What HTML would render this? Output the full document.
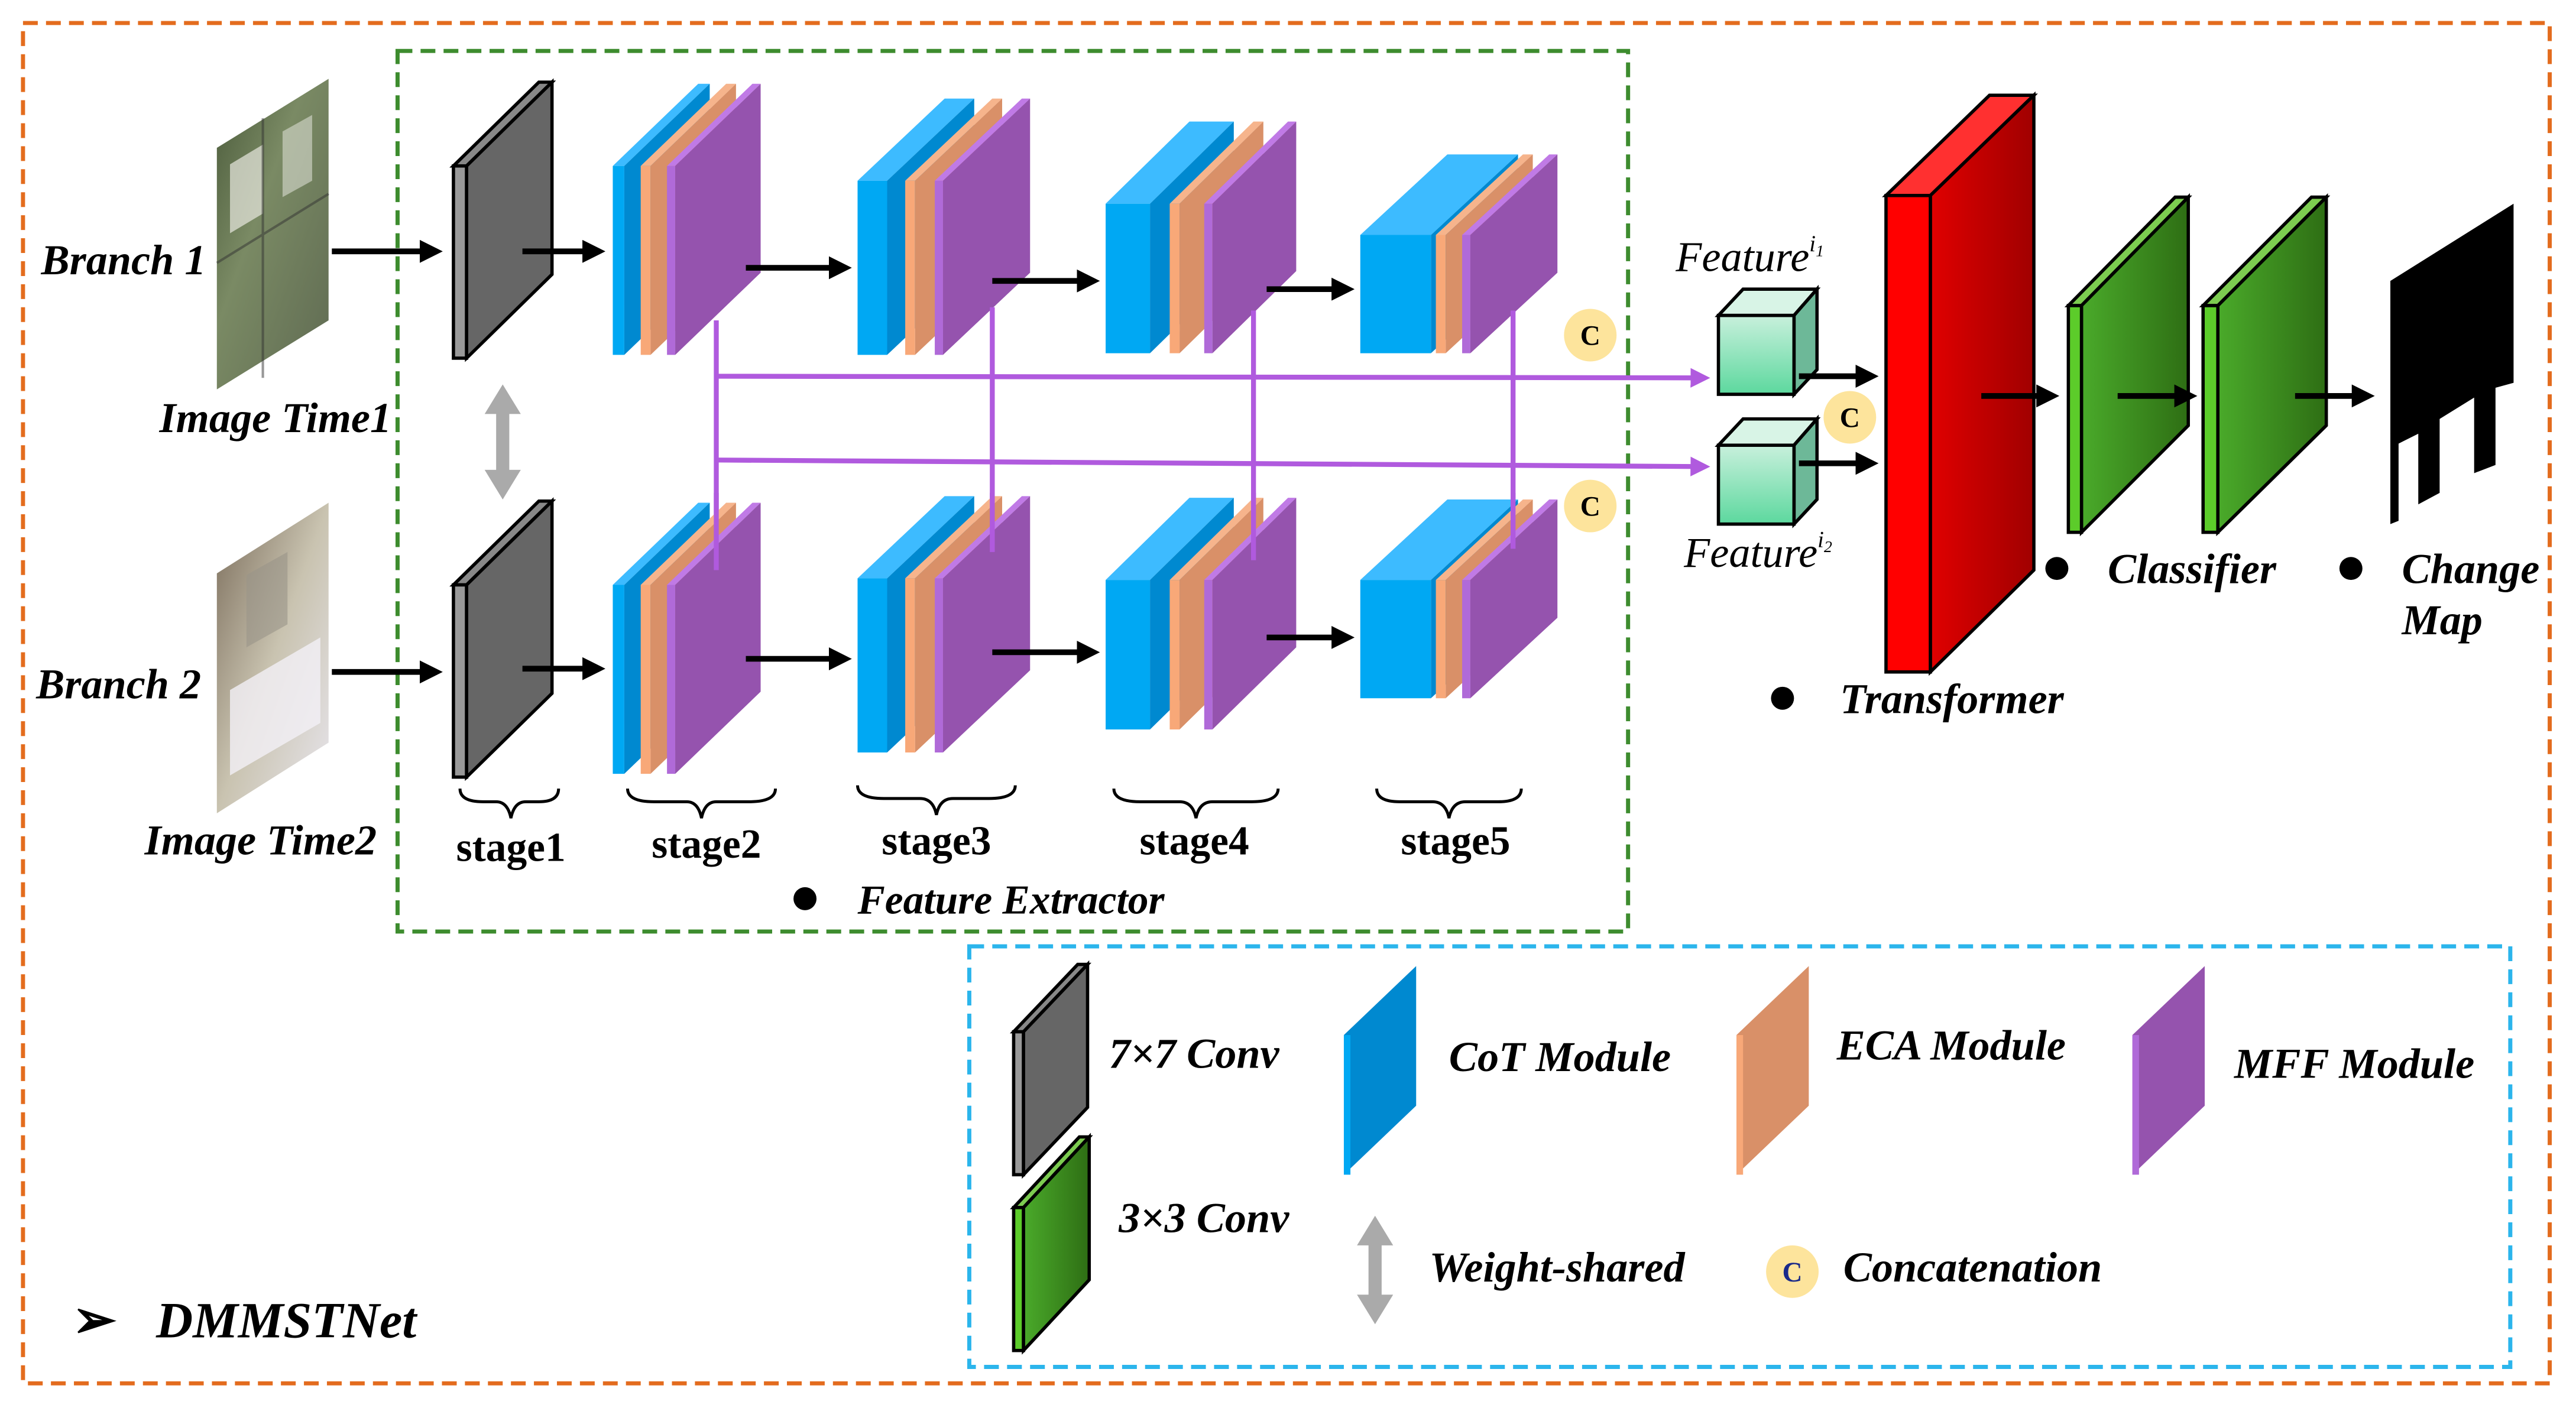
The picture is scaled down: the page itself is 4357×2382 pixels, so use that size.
<!DOCTYPE html>
<html><head><meta charset="utf-8"><style>
html,body{margin:0;padding:0;background:#fff;}
svg{display:block;}
text{font-family:"Liberation Serif",serif;}
.bi{font-weight:bold;font-style:italic;}
.b{font-weight:bold;}
</style></head><body>
<svg width="4357" height="2382" viewBox="0 0 1568 857" preserveAspectRatio="none" xmlns="http://www.w3.org/2000/svg">
<defs>
<marker id="ah" markerWidth="4" markerHeight="4" refX="3" refY="2" orient="auto" markerUnits="strokeWidth"><path d="M0,0 L4,2 L0,4 z" fill="#000"/></marker>
<marker id="ap" markerWidth="4" markerHeight="4" refX="3" refY="2" orient="auto" markerUnits="strokeWidth"><path d="M0,0 L4,2 L0,4 z" fill="#b05ade"/></marker>
<linearGradient id="img1" x1="0" y1="0" x2="1" y2="1"><stop offset="0" stop-color="#4a5a3a"/><stop offset="0.4" stop-color="#7a8a64"/><stop offset="1" stop-color="#5f6a52"/></linearGradient>
<linearGradient id="img2" x1="0" y1="0" x2="1" y2="1"><stop offset="0" stop-color="#7a6c5a"/><stop offset="0.5" stop-color="#c9c3b0"/><stop offset="1" stop-color="#e8e6ee"/></linearGradient>
<linearGradient id="red" x1="0" y1="0" x2="1" y2="0"><stop offset="0" stop-color="#e00000"/><stop offset="1" stop-color="#a00000"/></linearGradient>
<linearGradient id="grn" x1="0" y1="0" x2="1" y2="0"><stop offset="0" stop-color="#4aaa2a"/><stop offset="1" stop-color="#2e6e14"/></linearGradient>
<linearGradient id="cube" x1="0" y1="0" x2="0" y2="1"><stop offset="0" stop-color="#c8f0dc"/><stop offset="1" stop-color="#5cd89e"/></linearGradient>
<g id="s1">
<polygon points="276,101 284,101 336,50 328,50" fill="#888" stroke="#000" stroke-width="2"/>
<rect x="276" y="101" width="8" height="117" fill="#999" stroke="#000" stroke-width="2"/>
<polygon points="284,101 336,50 336,167 284,218" fill="#666" stroke="#000" stroke-width="2"/>
</g>
<g id="s2">
<polygon points="373,101 380,101 432,51 425,51" fill="#3dbbff"/><rect x="373" y="101" width="7" height="115" fill="#00a8f3"/><polygon points="380,101 432,51 432,166 380,216" fill="#0089d0"/>
<polygon points="390,101 396,101 448,51 442,51" fill="#f6b48c"/><rect x="390" y="101" width="6" height="115" fill="#f8a878"/><polygon points="396,101 448,51 448,166 396,216" fill="#d99068"/>
<polygon points="406,101 411,101 463,51 458,51" fill="#c07ae6"/><rect x="406" y="101" width="5" height="115" fill="#b06ad8"/><polygon points="411,101 463,51 463,166 411,216" fill="#9553ae"/>
</g>
<g id="s3">
<polygon points="522,110 540,110 593,60 575,60" fill="#3dbbff"/><rect x="522" y="110" width="18" height="106" fill="#00a8f3"/><polygon points="540,110 593,60 593,166 540,216" fill="#0089d0"/>
<polygon points="551,110 557,110 610,60 604,60" fill="#f6b48c"/><rect x="551" y="110" width="6" height="106" fill="#f8a878"/><polygon points="557,110 610,60 610,166 557,216" fill="#d99068"/>
<polygon points="569,110 574,110 627,60 622,60" fill="#c07ae6"/><rect x="569" y="110" width="5" height="106" fill="#b06ad8"/><polygon points="574,110 627,60 627,166 574,216" fill="#9553ae"/>
</g>
<g id="s4">
<polygon points="673,124 700,124 751,74 724,74" fill="#3dbbff"/><rect x="673" y="124" width="27" height="91" fill="#00a8f3"/><polygon points="700,124 751,74 751,165 700,215" fill="#0089d0"/>
<polygon points="712,124 718,124 769,74 763,74" fill="#f6b48c"/><rect x="712" y="124" width="6" height="91" fill="#f8a878"/><polygon points="718,124 769,74 769,165 718,215" fill="#d99068"/>
<polygon points="733,124 738,124 789,74 784,74" fill="#c07ae6"/><rect x="733" y="124" width="5" height="91" fill="#b06ad8"/><polygon points="738,124 789,74 789,165 738,215" fill="#9553ae"/>
</g>
<g id="s5">
<polygon points="828,143 871,143 924,94 881,94" fill="#3dbbff"/><rect x="828" y="143" width="43" height="72" fill="#00a8f3"/><polygon points="871,143 924,94 924,166 871,215" fill="#0089d0"/>
<polygon points="874,143 880,143 933,94 927,94" fill="#f6b48c"/><rect x="874" y="143" width="6" height="72" fill="#f8a878"/><polygon points="880,143 933,94 933,166 880,215" fill="#d99068"/>
<polygon points="890,143 895,143 948,94 943,94" fill="#c07ae6"/><rect x="890" y="143" width="5" height="72" fill="#b06ad8"/><polygon points="895,143 948,94 948,166 895,215" fill="#9553ae"/>
</g>
</defs>
<rect width="1568" height="857" fill="#fff"/>
<rect x="14" y="14" width="1538" height="828" fill="none" stroke="#e36c1e" stroke-width="2.5" stroke-dasharray="9,5"/>
<rect x="242" y="31" width="749" height="536" fill="none" stroke="#3d8c2e" stroke-width="2.5" stroke-dasharray="9,5"/>
<rect x="590" y="576" width="938" height="256" fill="none" stroke="#2bb5ec" stroke-width="2.5" stroke-dasharray="9,5"/>
<polygon points="132,90 200,48 200,195 132,237" fill="url(#img1)"/>
<polygon points="140,100 160,88 160,130 140,142" fill="#e8e8e0" opacity="0.7"/>
<polygon points="172,80 190,70 190,110 172,120" fill="#d8dcd0" opacity="0.6"/>
<path d="M160,72 L160,230 M132,160 L200,118" stroke="#333" stroke-width="1.5" opacity="0.5"/>
<polygon points="132,349 200,306 200,452 132,495" fill="url(#img2)"/>
<polygon points="140,420 195,388 195,440 140,472" fill="#f2f0f6" opacity="0.8"/>
<polygon points="150,350 175,336 175,380 150,394" fill="#9a9488" opacity="0.6"/>
<text x="25" y="167" font-size="26" class="bi">Branch 1</text>
<text x="97" y="263" font-size="26" class="bi">Image Time1</text>
<text x="22" y="425" font-size="26" class="bi">Branch 2</text>
<text x="88" y="520" font-size="26" class="bi">Image Time2</text>
<use href="#s1"/><use href="#s1" y="255"/>
<use href="#s2"/><use href="#s3"/><use href="#s4"/><use href="#s5"/>
<g stroke="#b05ade" stroke-width="3" fill="none">
<line x1="436" y1="195" x2="436" y2="347"/>
<line x1="604" y1="187" x2="604" y2="336"/>
<line x1="763" y1="189" x2="763" y2="341"/>
<line x1="921" y1="189" x2="921" y2="334"/>
<line x1="436" y1="229" x2="1038" y2="230" marker-end="url(#ap)"/>
<line x1="436" y1="280" x2="1038" y2="284" marker-end="url(#ap)"/>
</g>
<use href="#s2" y="255"/><use href="#s3" y="242"/><use href="#s4" y="229"/><use href="#s5" y="210"/>
<g stroke="#b05ade" stroke-width="3"><line x1="436" y1="300" x2="436" y2="347"/><line x1="604" y1="300" x2="604" y2="336"/><line x1="763" y1="300" x2="763" y2="341"/><line x1="921" y1="300" x2="921" y2="334"/></g>
<g stroke="#000" stroke-width="3.5" marker-end="url(#ah)">
<line x1="202" y1="153" x2="266" y2="153"/><line x1="318" y1="153" x2="365" y2="153"/>
<line x1="454" y1="163" x2="515" y2="163"/><line x1="604" y1="171" x2="666" y2="171"/><line x1="771" y1="176" x2="821" y2="176"/>
<line x1="202" y1="409" x2="266" y2="409"/><line x1="318" y1="407" x2="365" y2="407"/>
<line x1="454" y1="401" x2="515" y2="401"/><line x1="604" y1="397" x2="666" y2="397"/><line x1="771" y1="388" x2="821" y2="388"/>
</g>
<g fill="#aaa"><polygon points="306,234 317,252 310,252 310,286 317,286 306,304 295,286 302,286 302,252 295,252"/></g>
<g fill="none" stroke="#000" stroke-width="1.8">
<path d="M280,480 q0,8 14,8 h8 q7,0 9,10 q2,-10 9,-10 h8 q12,0 12,-8"/>
<path d="M382,480 q0,8 16,8 h20 q7,0 9,10 q2,-10 9,-10 h20 q16,0 16,-8"/>
<path d="M522,478 q0,8 16,8 h22 q8,0 10,10 q2,-10 10,-10 h22 q16,0 16,-8"/>
<path d="M678,480 q0,8 16,8 h24 q8,0 10,10 q2,-10 10,-10 h24 q16,0 16,-8"/>
<path d="M838,480 q0,8 14,8 h20 q8,0 10,10 q2,-10 10,-10 h20 q14,0 14,-8"/>
</g>
<g font-size="25" class="b" text-anchor="middle">
<text x="311" y="524">stage1</text><text x="430" y="522">stage2</text><text x="570" y="520">stage3</text><text x="727" y="520">stage4</text><text x="886" y="520">stage5</text>
</g>
<circle cx="490" cy="547" r="7" fill="#000"/>
<text x="522" y="556" font-size="25" class="bi">Feature Extractor</text>
<g font-size="17" class="b" text-anchor="middle">
<circle cx="968" cy="204" r="16" fill="#fde49c"/><text x="968" y="210">C</text>
<circle cx="968" cy="308" r="16" fill="#fde49c"/><text x="968" y="314">C</text>
<circle cx="1126" cy="254" r="16" fill="#fde49c"/><text x="1126" y="260">C</text>
</g>
<g stroke="#000" stroke-width="2">
<polygon points="1046,192 1061,176 1106,176 1092,192" fill="#d8f4e6"/>
<polygon points="1092,192 1106,176 1106,225 1092,240" fill="#6db898"/>
<rect x="1046" y="192" width="46" height="48" fill="url(#cube)"/>
<polygon points="1046,271 1061,255 1106,255 1092,271" fill="#d8f4e6"/>
<polygon points="1092,271 1106,255 1106,304 1092,319" fill="#6db898"/>
<rect x="1046" y="271" width="46" height="48" fill="url(#cube)"/>
</g>
<text x="1020" y="165" font-size="26" font-style="italic">Feature<tspan font-size="14" dy="-12">i</tspan><tspan font-size="10" dy="3">1</tspan></text>
<text x="1025" y="345" font-size="26" font-style="italic">Feature<tspan font-size="14" dy="-12">i</tspan><tspan font-size="10" dy="3">2</tspan></text>
<g stroke="#000" stroke-width="3.5" marker-end="url(#ah)">
<line x1="1095" y1="229" x2="1140" y2="229"/><line x1="1095" y1="282" x2="1140" y2="282"/>
</g>
<g stroke="#000" stroke-width="2">
<polygon points="1148,119 1175,119 1238,58 1211,58" fill="#ff3030"/>
<polygon points="1175,119 1238,58 1238,347 1175,409" fill="url(#red)"/>
<rect x="1148" y="119" width="27" height="290" fill="#ff0000"/>
</g>
<line x1="1206" y1="241" x2="1250" y2="241" stroke="#000" stroke-width="3.5" marker-end="url(#ah)"/>
<g stroke="#000" stroke-width="2">
<polygon points="1259,186 1267,186 1332,120 1324,120" fill="#7ccc50"/>
<polygon points="1267,186 1332,120 1332,259 1267,324" fill="url(#grn)"/>
<rect x="1259" y="186" width="8" height="138" fill="#5ccc2a"/>
<polygon points="1341,186 1350,186 1416,120 1407,120" fill="#7ccc50"/>
<polygon points="1350,186 1416,120 1416,259 1350,324" fill="url(#grn)"/>
<rect x="1341" y="186" width="9" height="138" fill="#5ccc2a"/>
</g>
<g stroke="#000" stroke-width="3.5" marker-end="url(#ah)">
<line x1="1289" y1="241" x2="1334" y2="241"/><line x1="1397" y1="241" x2="1442" y2="241"/>
</g>
<polygon points="1455,171 1530,124 1530,233 1519,236 1519,283 1506,288 1506,242 1485,255 1485,300 1472,307 1472,264 1460,270 1460,317 1455,319" fill="#000"/>
<circle cx="1085" cy="425" r="7" fill="#000"/>
<text x="1120" y="434" font-size="26" class="bi">Transformer</text>
<circle cx="1252" cy="346" r="7" fill="#000"/>
<text x="1283" y="355" font-size="26" class="bi">Classifier</text>
<circle cx="1431" cy="346" r="7" fill="#000"/>
<text x="1462" y="355" font-size="26" class="bi">Change</text>
<text x="1462" y="386" font-size="26" class="bi">Map</text>
<g stroke="#000" stroke-width="2">
<polygon points="617,628 623,628 662,587 656,587" fill="#888"/>
<rect x="617" y="628" width="6" height="87" fill="#999"/>
<polygon points="623,628 662,587 662,674 623,715" fill="#666"/>
<polygon points="617,735 623,735 663,692 657,692" fill="#7ccc50"/>
<rect x="617" y="735" width="6" height="87" fill="#5ccc2a"/>
<polygon points="623,735 663,692 663,779 623,822" fill="url(#grn)"/>
</g>
<polygon points="818,630 862,588 862,673 818,715" fill="#0089d0"/><rect x="818" y="630" width="4" height="85" fill="#00a8f3"/>
<polygon points="1057,630 1101,588 1101,673 1057,715" fill="#d99068"/><rect x="1057" y="630" width="4" height="85" fill="#f8a878"/>
<polygon points="1298,630 1342,588 1342,673 1298,715" fill="#9553ae"/><rect x="1298" y="630" width="4" height="85" fill="#b06ad8"/>
<g font-size="26" class="bi">
<text x="675" y="650">7×7 Conv</text>
<text x="882" y="652">CoT Module</text>
<text x="1118" y="645">ECA Module</text>
<text x="1360" y="656">MFF Module</text>
<text x="681" y="750">3×3 Conv</text>
<text x="870" y="780">Weight-shared</text>
<text x="1122" y="780">Concatenation</text>
</g>
<polygon points="837,740 848,758 841,758 841,788 848,788 837,806 826,788 833,788 833,758 826,758" fill="#aaa"/>
<circle cx="1091" cy="774" r="16" fill="#fde49c"/><text x="1091" y="780" font-size="17" class="b" text-anchor="middle" fill="#1a2a8a">C</text>
<text x="44" y="814" font-size="32" font-weight="bold" font-family="DejaVu Sans, sans-serif">➢</text>
<text x="95" y="814" font-size="31" class="bi">DMMSTNet</text>
</svg>
</body></html>
